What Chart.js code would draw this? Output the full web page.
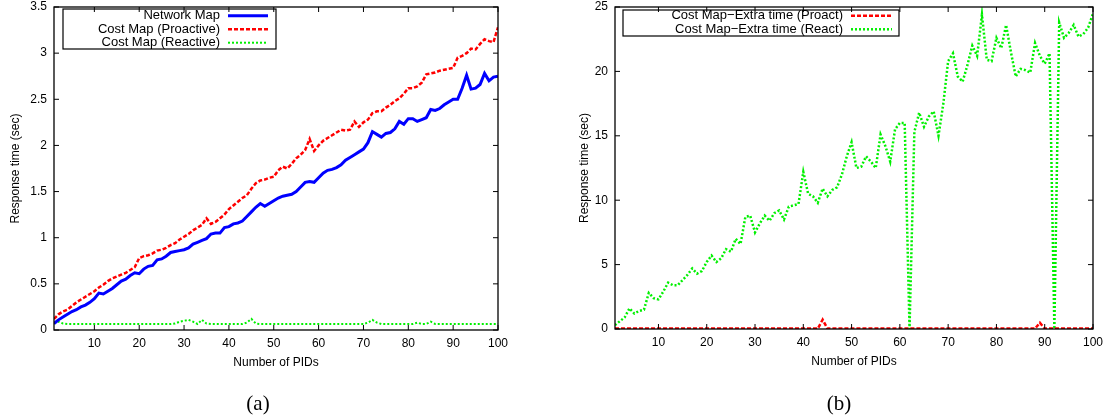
<!DOCTYPE html>
<html lang="en">
<head>
    <meta charset="UTF-8">
    <title>Response time vs Number of PIDs</title>
    <script src="https://cdn.jsdelivr.net/npm/chart.js"></script>
    <style>
        body {
            margin: 0;
            background: #fff;
        }
        #wrap {
            position: relative;
            width: 1103px;
            height: 420px;
            overflow: hidden;
        }
        canvas {
            position: absolute;
            top: 0;
        }
        #chartA { left: 0; }
        #chartB { left: 551px; }
    </style>
</head>
<body>
    <div id="wrap">
        <canvas id="chartA" width="551" height="420"></canvas>
        <canvas id="chartB" width="552" height="420"></canvas>
    </div>

    <script>
        // x values (number of PIDs)
        const pids = [
            1, 2, 3, 4, 5, 6, 7, 8, 9, 10, 11, 12, 13, 14, 15, 16, 17, 18, 19, 20,
            21, 22, 23, 24, 25, 26, 27, 28, 29, 30, 31, 32, 33, 34, 35, 36, 37, 38, 39, 40,
            41, 42, 43, 44, 45, 46, 47, 48, 49, 50, 51, 52, 53, 54, 55, 56, 57, 58, 59, 60,
            61, 62, 63, 64, 65, 66, 67, 68, 69, 70, 71, 72, 73, 74, 75, 76, 77, 78, 79, 80,
            81, 82, 83, 84, 85, 86, 87, 88, 89, 90, 91, 92, 93, 94, 95, 96, 97, 98, 99, 100
        ];
        const xTicks = [10, 20, 30, 40, 50, 60, 70, 80, 90, 100];
        const yTicksA = [0, 0.5, 1, 1.5, 2, 2.5, 3, 3.5];
        const yTicksB = [0, 5, 10, 15, 20, 25];

        // panel (a)
        const networkMap = [
            0.07, 0.11, 0.14, 0.17, 0.20, 0.22, 0.25, 0.27, 0.30, 0.34,
            0.40, 0.39, 0.42, 0.45, 0.49, 0.53, 0.55, 0.59, 0.62, 0.61,
            0.66, 0.69, 0.70, 0.76, 0.77, 0.80, 0.84, 0.85, 0.86, 0.87,
            0.89, 0.93, 0.95, 0.97, 0.99, 1.04, 1.05, 1.05, 1.11, 1.12,
            1.15, 1.16, 1.18, 1.23, 1.28, 1.33, 1.37, 1.34, 1.37, 1.40,
            1.43, 1.45, 1.46, 1.47, 1.50, 1.55, 1.60, 1.61, 1.60, 1.65,
            1.70, 1.73, 1.74, 1.76, 1.79, 1.84, 1.87, 1.90, 1.93, 1.96,
            2.03, 2.15, 2.12, 2.09, 2.13, 2.14, 2.18, 2.26, 2.23, 2.29,
            2.29, 2.26, 2.28, 2.30, 2.39, 2.38, 2.40, 2.44, 2.47, 2.50,
            2.50, 2.62, 2.76, 2.61, 2.62, 2.66, 2.78, 2.70, 2.74, 2.75
        ];
        const costMapProactive = [
            0.12, 0.17, 0.20, 0.22, 0.26, 0.30, 0.33, 0.36, 0.39, 0.42,
            0.46, 0.49, 0.53, 0.56, 0.58, 0.60, 0.62, 0.65, 0.68, 0.78,
            0.80, 0.81, 0.83, 0.86, 0.87, 0.89, 0.92, 0.94, 0.98, 1.01,
            1.04, 1.08, 1.11, 1.14, 1.21, 1.15, 1.17, 1.21, 1.25, 1.31,
            1.35, 1.39, 1.43, 1.46, 1.53, 1.59, 1.62, 1.63, 1.65, 1.66,
            1.73, 1.77, 1.75, 1.80, 1.86, 1.90, 1.95, 2.07, 1.94, 2.00,
            2.05, 2.08, 2.11, 2.14, 2.17, 2.16, 2.17, 2.26, 2.20, 2.25,
            2.28, 2.35, 2.37, 2.37, 2.41, 2.44, 2.48, 2.51, 2.56, 2.62,
            2.62, 2.64, 2.68, 2.77, 2.78, 2.79, 2.81, 2.82, 2.83, 2.84,
            2.95, 2.97, 3.00, 3.05, 3.04, 3.10, 3.15, 3.13, 3.12, 3.28
        ];
        const costMapReactive = [
            0.07, 0.09, 0.07, 0.065, 0.065, 0.065, 0.065, 0.065, 0.065, 0.065,
            0.065, 0.065, 0.065, 0.065, 0.065, 0.065, 0.065, 0.065, 0.065, 0.065,
            0.065, 0.065, 0.065, 0.065, 0.065, 0.065, 0.065, 0.07, 0.09, 0.10,
            0.11, 0.09, 0.065, 0.11, 0.07, 0.065, 0.065, 0.065, 0.065, 0.065,
            0.065, 0.065, 0.065, 0.08, 0.12, 0.07, 0.065, 0.065, 0.065, 0.065,
            0.065, 0.065, 0.065, 0.065, 0.065, 0.065, 0.065, 0.065, 0.065, 0.065,
            0.065, 0.065, 0.065, 0.065, 0.065, 0.065, 0.065, 0.065, 0.065, 0.065,
            0.08, 0.11, 0.08, 0.065, 0.065, 0.065, 0.065, 0.065, 0.065, 0.065,
            0.065, 0.08, 0.065, 0.065, 0.09, 0.065, 0.065, 0.065, 0.065, 0.065,
            0.065, 0.065, 0.065, 0.065, 0.065, 0.065, 0.065, 0.065, 0.065, 0.065
        ];

        // panel (b)
        const extraProact = [
            0.03, 0.03, 0.03, 0.03, 0.03, 0.03, 0.03, 0.03, 0.03, 0.03,
            0.03, 0.03, 0.03, 0.03, 0.03, 0.03, 0.03, 0.03, 0.03, 0.03,
            0.03, 0.03, 0.03, 0.03, 0.03, 0.03, 0.03, 0.03, 0.03, 0.03,
            0.03, 0.03, 0.03, 0.03, 0.03, 0.03, 0.03, 0.03, 0.03, 0.03,
            0.03, 0.03, 0.03, 0.72, 0.03, 0.03, 0.03, 0.03, 0.03, 0.03,
            0.03, 0.03, 0.03, 0.03, 0.03, 0.03, 0.03, 0.03, 0.03, 0.03,
            0.03, 0.03, 0.03, 0.03, 0.03, 0.03, 0.03, 0.03, 0.03, 0.03,
            0.03, 0.03, 0.03, 0.03, 0.03, 0.03, 0.03, 0.03, 0.03, 0.03,
            0.03, 0.03, 0.03, 0.03, 0.03, 0.03, 0.03, 0.03, 0.48, 0.03,
            0.03, 0.03, 0.03, 0.03, 0.03, 0.03, 0.03, 0.03, 0.03, 0.03
        ];
        const extraReact = [
            0.3, 0.6, 0.9, 1.6, 1.2, 1.4, 1.5, 2.8, 2.4, 2.3,
            2.9, 3.6, 3.4, 3.4, 3.8, 4.2, 4.7, 4.3, 4.5, 5.2,
            5.7, 5.2, 5.5, 6.2, 6.0, 7.0, 6.6, 8.7, 8.8, 7.5,
            8.2, 8.8, 8.4, 9.0, 9.2, 8.5, 9.5, 9.6, 9.7, 12.2,
            10.5, 10.3, 9.8, 10.9, 10.3, 10.8, 11.0, 12.0, 13.4, 14.5,
            12.5, 12.6, 13.4, 13.0, 12.5, 15.1, 14.2, 13.0, 15.5, 16.0,
            16.0, 0.0, 15.3, 16.8, 15.7, 16.5, 16.9, 15.0, 17.5, 20.8,
            21.4, 19.6, 19.2, 20.5, 22.0, 21.2, 24.4, 20.9, 20.8, 22.6,
            21.8, 23.6, 21.5, 19.6, 20.2, 20.1, 19.9, 22.2, 21.2, 20.6,
            21.4, 0.0, 23.8, 22.6, 23.0, 23.6, 22.7, 22.9, 23.4, 24.5
        ];

        Chart.defaults.font.family = '"Liberation Sans", Arial, sans-serif';
        Chart.defaults.color = '#000';

        // gnuplot look: closed border, inward ticks on all four sides, boxed key, caption
        const gnuplotFrame = {
            id: 'gnuplotFrame',
            afterDatasetsDraw(chart, args, opts) {
                const ctx = chart.ctx;
                const a = chart.chartArea;
                const xs = chart.scales.x;
                const ys = chart.scales.y;
                ctx.save();
                ctx.strokeStyle = '#000';
                ctx.lineWidth = 1.3;
                ctx.setLineDash([]);
                ctx.strokeRect(a.left, a.top, a.right - a.left, a.bottom - a.top);

                const t = 5;
                ctx.lineWidth = 1;
                ctx.beginPath();
                xs.ticks.forEach(tk => {
                    const px = xs.getPixelForValue(tk.value);
                    ctx.moveTo(px, a.bottom); ctx.lineTo(px, a.bottom - t);
                    ctx.moveTo(px, a.top); ctx.lineTo(px, a.top + t);
                });
                ys.ticks.forEach(tk => {
                    const py = ys.getPixelForValue(tk.value);
                    ctx.moveTo(a.left, py); ctx.lineTo(a.left + t, py);
                    ctx.moveTo(a.right, py); ctx.lineTo(a.right - t, py);
                });
                ctx.stroke();

                // key
                const k = opts.key;
                ctx.lineWidth = 1.2;
                ctx.strokeRect(a.left + k.left, a.top + k.top, k.right - k.left, k.bottom - k.top);
                ctx.font = '13px "Liberation Sans", Arial, sans-serif';
                ctx.fillStyle = '#000';
                ctx.textAlign = 'right';
                ctx.textBaseline = 'middle';
                chart.data.datasets.forEach((ds, i) => {
                    const yy = a.top + k.firstRow + i * k.rowHeight;
                    ctx.fillText(ds.label, a.left + k.textRight, yy);
                    ctx.strokeStyle = ds.borderColor;
                    ctx.lineWidth = ds.borderWidth;
                    ctx.setLineDash(ds.borderDash || []);
                    ctx.beginPath();
                    ctx.moveTo(a.left + k.sampleLeft, yy);
                    ctx.lineTo(a.left + k.sampleRight, yy);
                    ctx.stroke();
                });

                // subfigure caption
                ctx.setLineDash([]);
                ctx.font = '21px "Liberation Serif", "Times New Roman", serif';
                ctx.textAlign = 'center';
                ctx.fillText(opts.caption, opts.captionX, 404);
                ctx.restore();
            }
        };

        function axes(yMax, yTicks, yWidth, yTitlePad) {
            return {
                x: {
                    type: 'linear',
                    min: 1,
                    max: 100,
                    afterBuildTicks: s => { s.ticks = xTicks.map(v => ({ value: v })); },
                    afterFit: s => { s.height = 40; s.paddingLeft = 0; s.paddingRight = 0; },
                    grid: { display: false, drawTicks: false },
                    border: { display: false },
                    ticks: { font: { size: 12 }, padding: 6, maxRotation: 0, autoSkip: false, callback: v => String(v) },
                    title: { display: true, text: 'Number of PIDs', font: { size: 12 }, padding: 0 }
                },
                y: {
                    min: 0,
                    max: yMax,
                    afterBuildTicks: s => { s.ticks = yTicks.map(v => ({ value: v })); },
                    afterFit: s => { s.width = yWidth; s.paddingTop = 0; s.paddingBottom = 0; },
                    grid: { display: false, drawTicks: false },
                    border: { display: false },
                    ticks: { font: { size: 12 }, padding: 7, autoSkip: false, callback: v => String(v) },
                    title: { display: true, text: 'Response time (sec)', font: { size: 12 }, padding: { top: yTitlePad, bottom: 0 } }
                }
            };
        }

        function series(label, values, color, width, dash) {
            return {
                label: label,
                data: pids.map((p, i) => ({ x: p, y: values[i] })),
                borderColor: color,
                borderWidth: width,
                borderDash: dash,
                pointRadius: 0,
                tension: 0,
                fill: false
            };
        }

        new Chart(document.getElementById('chartA'), {
            type: 'line',
            data: {
                datasets: [
                    series('Network Map', networkMap, '#0000ff', 3, []),
                    series('Cost Map (Proactive)', costMapProactive, '#ff0000', 2.5, [4, 2]),
                    series('Cost Map (Reactive)', costMapReactive, '#00f000', 2, [2, 2])
                ]
            },
            options: {
                responsive: false,
                animation: false,
                devicePixelRatio: 1,
                layout: { padding: { left: 0, right: 53, top: 7, bottom: 50 } },
                scales: axes(3.5, yTicksA, 54, 8),
                plugins: {
                    legend: { display: false },
                    tooltip: { enabled: false },
                    gnuplotFrame: {
                        key: { left: 9, top: 2, right: 222, bottom: 42, textRight: 166, sampleLeft: 174, sampleRight: 214, firstRow: 8.7, rowHeight: 13.5 },
                        caption: '(a)',
                        captionX: 258
                    }
                }
            },
            plugins: [gnuplotFrame]
        });

        new Chart(document.getElementById('chartB'), {
            type: 'line',
            data: {
                datasets: [
                    series('Cost Map\u2212Extra time (Proact)', extraProact, '#ff0000', 2.5, [4, 2]),
                    series('Cost Map\u2212Extra time (React)', extraReact, '#00f000', 2.5, [2, 2])
                ]
            },
            options: {
                responsive: false,
                animation: false,
                devicePixelRatio: 1,
                layout: { padding: { left: 0, right: 10, top: 7, bottom: 51 } },
                scales: axes(25, yTicksB, 64, 26),
                plugins: {
                    legend: { display: false },
                    tooltip: { enabled: false },
                    gnuplotFrame: {
                        key: { left: 8, top: 3, right: 284, bottom: 29, textRight: 228, sampleLeft: 236, sampleRight: 277, firstRow: 8.7, rowHeight: 13.6 },
                        caption: '(b)',
                        captionX: 288
                    }
                }
            },
            plugins: [gnuplotFrame]
        });
    </script>
</body>
</html>
